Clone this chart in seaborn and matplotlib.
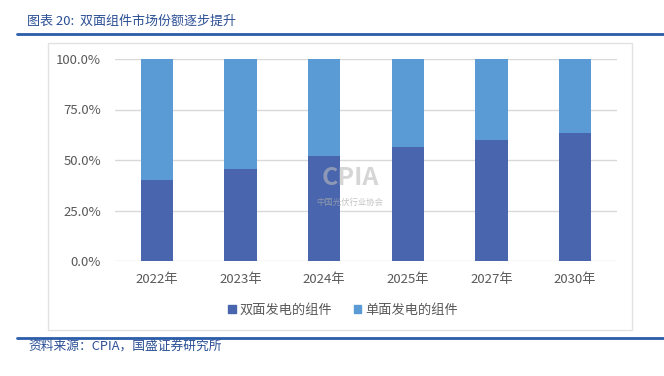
import matplotlib
matplotlib.use('Agg')
import matplotlib.pyplot as plt
import matplotlib.patches as mpatches
from matplotlib.lines import Line2D
import pandas as pd
import seaborn as sns

# Data
years = ['2022年', '2023年', '2024年', '2025年', '2027年', '2030年']
bifacial = [40.0, 45.3, 52.0, 56.2, 59.7, 63.2]    # 双面发电的组件 (%)
monofacial = [100 - v for v in bifacial]           # 单面发电的组件 (%)
y_ticks = [0, 25, 50, 75, 100]

dark_blue = '#4865AE'
light_blue = '#5B9BD5'
grey_text = '#595959'
title_blue = '#2B4F95'

sns.set_theme(style='white')
plt.rcParams['font.family'] = ['Noto Sans CJK SC', 'DejaVu Sans']

df = pd.DataFrame({'year': years, 'bifacial': bifacial, 'monofacial': monofacial})
df['total'] = df['bifacial'] + df['monofacial']

W, H = 664, 376
fig = plt.figure(figsize=(W / 100, H / 100), dpi=100)


def fx(px):
    return px / W


def fy(py):
    return 1 - py / H


# Header, rules and chart frame
fig.text(fx(27), fy(21), '图表 20:  双面组件市场份额逐步提升', fontsize=9.4,
         color=title_blue, style='italic', va='center', ha='left')
fig.add_artist(Line2D([fx(17), 1], [fy(33.5), fy(33.5)], color='#2A5CAA', lw=2))
fig.add_artist(Line2D([fx(17), 1], [fy(337.5), fy(337.5)], color='#2A5CAA', lw=2))
fig.add_artist(mpatches.Rectangle((fx(48), fy(330)), fx(632) - fx(48), fy(43) - fy(330),
                                  fill=False, edgecolor='#E2E2E2', lw=1))
fig.text(fx(28), fy(346), '资料来源：CPIA，国盛证券研究所', fontsize=9.2,
         color=title_blue, style='italic', va='center', ha='left')

ax = fig.add_axes([fx(115), fy(261), fx(617) - fx(115), fy(59) - fy(261)])

sns.barplot(data=df, x='year', y='total', color=light_blue, width=0.39,
            saturation=1, linewidth=0, ax=ax, zorder=3)
sns.barplot(data=df, x='year', y='bifacial', color=dark_blue, width=0.39,
            saturation=1, linewidth=0, ax=ax, zorder=4)

ax.set_ylim(0, 100)
ax.set_xlim(-0.5, len(years) - 0.5)
ax.set_yticks(y_ticks)
ax.set_yticklabels([f'{v:.1f}%' for v in y_ticks])
ax.yaxis.grid(True, color='#D9D9D9', lw=1, zorder=0)
ax.set_axisbelow(True)
ax.set_xlabel('')
ax.set_ylabel('')
for s in ax.spines.values():
    s.set_visible(False)
ax.tick_params(axis='both', length=0, labelsize=9.5, colors=grey_text)
ax.tick_params(axis='y', pad=10)
ax.tick_params(axis='x', pad=9)

# Faint watermark
ax.text(2.31, 41, 'CPIA', fontsize=18, fontweight='bold', color='#BBBBBB', alpha=0.6,
        ha='center', va='center', zorder=5)
ax.text(2.31, 29, '中国光伏行业协会', fontsize=6, color='#AAAAAA', alpha=0.7,
        ha='center', va='center', zorder=5)

handles = [mpatches.Patch(color=dark_blue, label='双面发电的组件'),
           mpatches.Patch(color=light_blue, label='单面发电的组件')]
fig.legend(handles=handles, loc='center', bbox_to_anchor=(fx(343), fy(310)),
           ncol=2, frameon=False, fontsize=9.5, labelcolor=grey_text,
           handlelength=0.6, handleheight=0.6, handletextpad=0.3, columnspacing=1.6)

fig.savefig('out.png', dpi=100)
